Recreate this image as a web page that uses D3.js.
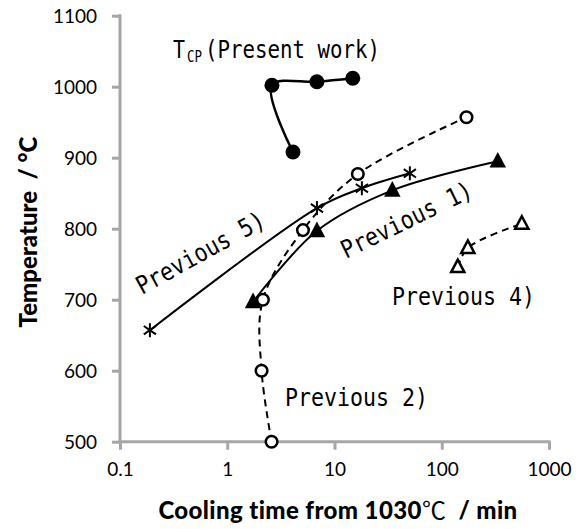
<!DOCTYPE html>
<html>
<head>
<meta charset="utf-8">
<script src="https://cdn.jsdelivr.net/npm/d3@7"></script>
<style>
  html, body { margin: 0; padding: 0; background: #fff; }
  svg { display: block; }
</style>
</head>
<body>
<svg id="chart" width="579" height="529"></svg>
<script>
// ---- data ----
const xTicks = [0.1, 1, 10, 100, 1000];
const yTicks = [500, 600, 700, 800, 900, 1000, 1100];

// Present work (T_CP) - filled circles
const presentX = [4.10, 2.61, 6.85, 14.8];
const presentY = [908, 1002, 1007, 1012];

// Previous 2) - open circles, dashed
const prev2X = [2.59, 2.09, 2.15, 5.08, 16.5, 170];
const prev2Y = [500, 600, 700, 798, 877, 957];

// Previous 1) - filled triangles, solid
const prev1X = [1.74, 6.86, 34.6, 333];
const prev1Y = [697, 797, 854, 895];

// Previous 5) - asterisks, solid
const prev5X = [0.19, 6.86, 18.0, 50.4];
const prev5Y = [657, 829, 857, 878];

// Previous 4) - open triangles, dashed
const prev4X = [141, 175, 558];
const prev4Y = [746, 773, 807];

// ---- layout ----
const svg = d3.select("#chart");
const X0 = 120, X1 = 549, Y0 = 441.7, Y1 = 15.7;
const x = d3.scaleLog().domain([0.1, 1000]).range([X0, X1]);
const y = d3.scaleLinear().domain([500, 1100]).range([Y0, Y1]);
const axisColor = "#a6a6a6";
const tickFont = "Lato, 'Open Sans', sans-serif";
const monoFont = "'DejaVu Sans Mono', 'Liberation Mono', monospace";

// axes
const yAxis = svg.append("g").attr("transform", `translate(${X0},0)`)
  .call(d3.axisLeft(y).tickValues(yTicks).tickSize(8).tickSizeOuter(0).tickFormat(d3.format("d")));
const xAxis = svg.append("g").attr("transform", `translate(0,${Y0})`)
  .call(d3.axisBottom(x).tickValues(xTicks).tickSize(8).tickSizeOuter(0).tickFormat(d => String(d)));
[yAxis, xAxis].forEach(g => {
  g.select(".domain").attr("stroke", axisColor).attr("stroke-width", 3);
  g.selectAll(".tick line").attr("stroke", axisColor).attr("stroke-width", 3);
  g.selectAll(".tick text").attr("fill", "#000").attr("font-family", tickFont).attr("font-size", 19);
});
yAxis.selectAll(".tick text").attr("x", -23).attr("dy", "0.36em");
xAxis.selectAll(".tick text").attr("y", 21).attr("dy", "0.71em");
xAxis.select(".domain").attr("d", `M${X0 - 1.5},0H${X1 + 1.5}`);
yAxis.select(".domain").attr("d", `M0,${Y0 + 1.5}V${Y1 - 1.5}`);

// axis titles
svg.append("text")
  .attr("x", 338).attr("y", 519).attr("text-anchor", "middle")
  .attr("font-family", tickFont).attr("font-weight", 900).attr("font-size", 24)
  .attr("letter-spacing", 0.4)
  .attr("fill", "#000")
  .html("Cooling time from 1030<tspan font-weight='normal' font-family=\"'Noto Sans CJK JP', sans-serif\">℃</tspan>&#160;&#160;/ min");

svg.append("text")
  .attr("transform", "translate(37,232) rotate(-90)").attr("text-anchor", "middle")
  .attr("font-family", tickFont).attr("font-weight", 900).attr("font-size", 24)
  .attr("fill", "#000")
  .html("Temperature &#160;/ °C");

// ---- lines ----
const line = (xs, ys) => d3.line().curve(d3.curveCatmullRom.alpha(0.5))
  .x((d, i) => x(xs[i])).y((d, i) => y(ys[i]))(xs);

const lines = svg.append("g").attr("fill", "none").attr("stroke", "#000").attr("stroke-width", 2);
lines.append("path").attr("d", line(presentX, presentY)).attr("stroke-width", 2.5);
lines.append("path").attr("d", line(prev5X, prev5Y));
lines.append("path").attr("d", line(prev1X, prev1Y));
lines.append("path").attr("d", line(prev2X, prev2Y)).attr("stroke-dasharray", "7,5");
lines.append("path").attr("d", line(prev4X, prev4Y)).attr("stroke-dasharray", "7,5");

// ---- markers ----
const mk = svg.append("g");
// asterisks
prev5X.forEach((v, i) => {
  const cx = x(v), cy = y(prev5Y[i]), r = 7;
  const g = mk.append("g").attr("transform", `translate(${cx},${cy})`)
    .attr("stroke", "#000").attr("stroke-width", 2);
  g.append("line").attr("x1", 0).attr("y1", -r).attr("x2", 0).attr("y2", r);
  g.append("line").attr("x1", -r * 0.87).attr("y1", -r * 0.6).attr("x2", r * 0.87).attr("y2", r * 0.6);
  g.append("line").attr("x1", -r * 0.87).attr("y1", r * 0.6).attr("x2", r * 0.87).attr("y2", -r * 0.6);
});
// filled triangles
const triPath = (s) => `M0,${-s * 0.62}L${s * 0.55},${s * 0.42}L${-s * 0.55},${s * 0.42}Z`;
prev1X.forEach((v, i) => {
  mk.append("path").attr("d", triPath(15))
    .attr("transform", `translate(${x(v)},${y(prev1Y[i])})`).attr("fill", "#000");
});
// open triangles
prev4X.forEach((v, i) => {
  mk.append("path").attr("d", triPath(12))
    .attr("transform", `translate(${x(v)},${y(prev4Y[i])})`)
    .attr("fill", "#fff").attr("stroke", "#000").attr("stroke-width", 2.5);
});
// open circles
prev2X.forEach((v, i) => {
  mk.append("circle").attr("cx", x(v)).attr("cy", y(prev2Y[i])).attr("r", 5.8)
    .attr("fill", "#fff").attr("stroke", "#000").attr("stroke-width", 2.5);
});
// filled circles
presentX.forEach((v, i) => {
  mk.append("circle").attr("cx", x(v)).attr("cy", y(presentY[i])).attr("r", 7.5).attr("fill", "#000");
});

// ---- labels ----
const lab = svg.append("g").attr("font-family", monoFont).attr("fill", "#000");
const charW = 13;
function label(txt, tx, ty, rot) {
  lab.append("text").attr("transform", `translate(${tx},${ty}) rotate(${rot})`)
    .attr("font-size", 25).attr("textLength", txt.length * charW)
    .attr("lengthAdjust", "spacingAndGlyphs").text(txt);
}
label("Previous 2)", 285, 406, 0);
label("Previous 4)", 392, 305, 0);
label("Previous 5)", 142, 295, -29);
label("Previous 1)", 346, 259, -26);

lab.append("text").attr("x", 173).attr("y", 58).attr("font-size", 25)
  .attr("textLength", 12).attr("lengthAdjust", "spacingAndGlyphs").text("T");
lab.append("text").attr("x", 187).attr("y", 62).attr("font-size", 15)
  .attr("textLength", 15).attr("lengthAdjust", "spacingAndGlyphs").text("CP");
lab.append("text").attr("x", 205).attr("y", 58).attr("font-size", 25)
  .attr("textLength", 14 * 12.5).attr("lengthAdjust", "spacingAndGlyphs").text("(Present work)");
</script>
</body>
</html>
